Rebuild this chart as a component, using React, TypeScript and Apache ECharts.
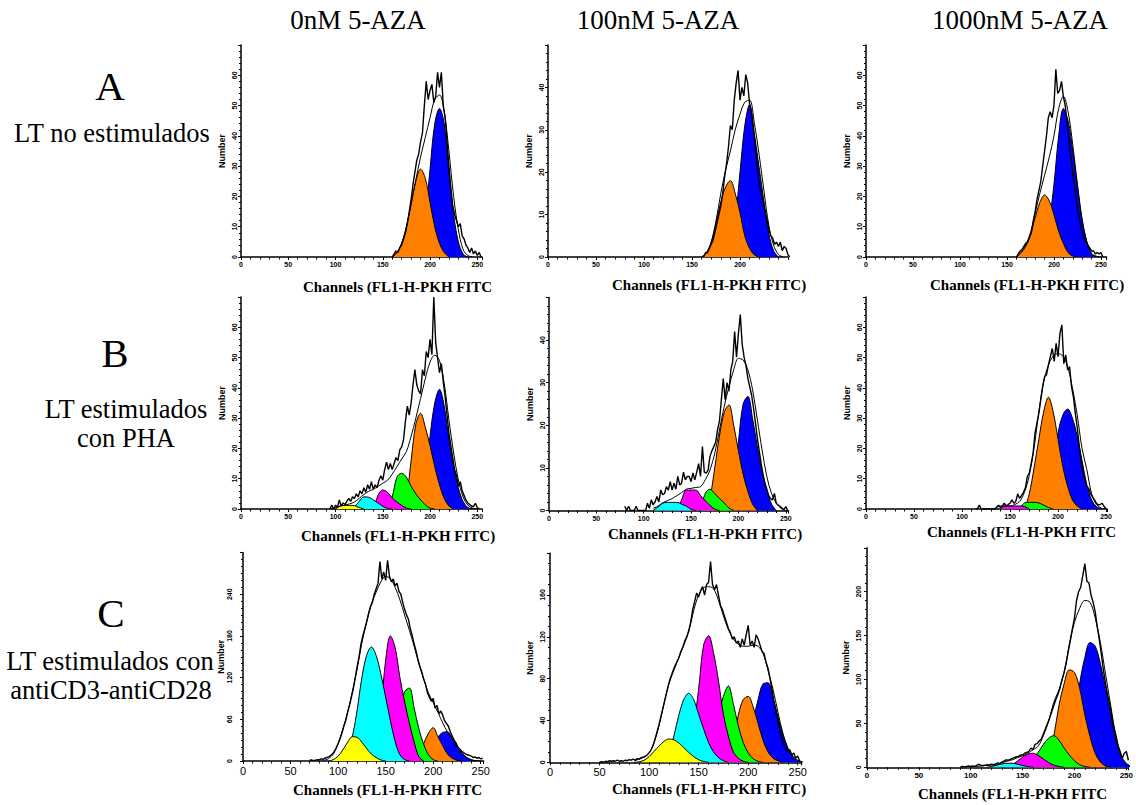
import React, { useEffect, useRef } from "react";
import * as echarts from "echarts";

const _ = null;
const PEAK_STEP = 5;
const RAW_STEP = 2;

const COLUMN_TITLES = ["0nM 5-AZA", "100nM 5-AZA", "1000nM 5-AZA"];
const ROW_LETTERS = ["A", "B", "C"];
const ROW_TEXTS = [["LT no estimulados"], ["LT estimulados", "con PHA"], ["LT estimulados con", "antiCD3-antiCD28"]];
const AXIS_NAME_X = "Channels (FL1-H-PKH FITC";
const AXIS_NAME_X_CLOSED = "Channels (FL1-H-PKH FITC)";
const AXIS_NAME_Y = "Number";
const PEAK_NAMES = ["blue", "orange", "green", "magenta", "cyan", "yellow"];
const PEAK_COLORS = ["#0000ff", "#ff8000", "#00ff00", "#ff00ff", "#00ffff", "#ffff00"];

// ---------- Row A, 0nM ----------
const A1_FROM = 160; // 160..245 step 5
const A1_ORANGE = [0, 1.5, 4.5, 10, 17.5, 25, 29, 26, 18, 10, 4.5, 1.5, 0, _, _, _, _, _];
const A1_BLUE = [_, _, _, _, 0, 1.5, 5, 13, 29, 44, 49, 44, 28, 14, 5, 1, 0, _];
const A1_FIT = [0, 1.5, 4.5, 10, 17.5, 25.5, 33, 39.5, 46, 52, 53.5, 48, 35, 20, 9, 2.5, 0.5, 0];
const A1_RAW_FROM = 160;
const A1_RAW = [0, 1, 2, 1.5, 3, 4, 6, 8, 11, 15, 19, 24, 28, 32, 34, 38, 41, 50, 58, 52, 55, 57, 51, 53, 61, 56, 61, 50, 46, 38, 30, 23, 17, 14, 12, 10, 11, 7, 6, 4, 3, 1.5, 3, 1, 2, 0.5, 1.5, 0];

// ---------- Row A, 100nM ----------
const A2_FROM = 160;
const A2_ORANGE = [0, 1, 3.5, 8, 13, 16.5, 18, 15, 10.5, 5, 2, 0.5, 0, _, _, _, _, _];
const A2_BLUE = [_, _, _, _, 0, 1.5, 4, 9, 20, 31, 36, 29, 21, 13, 5.5, 1.5, 0, _];
const A2_FIT = [0, 1, 3.5, 8.5, 15, 20.5, 25, 30, 33.7, 36.5, 37, 31.5, 24, 15.5, 7.5, 2.8, 0.6, 0];
const A2_RAW_FROM = 162;
const A2_RAW = [0, 1, 1, 2, 3, 4, 6, 8, 10, 12, 15, 19, 22, 26, 31, 30, 37, 41, 44, 37, 40, 38, 43, 41, 36, 34, 30, 26, 21, 17, 15, 13, 11, 9, 6.5, 5, 4.5, 3, 3.5, 2.5, 3.5, 1.5, 2.5, 2, 0.5, 0];

// ---------- Row A, 1000nM ----------
const A3_FROM = 160; // 160..250
const A3_ORANGE = [0, 1.5, 3.5, 7.5, 13, 18, 20.5, 18.5, 14, 8.5, 4.5, 1.5, 0.3, 0, _, _, _, _, _];
const A3_BLUE = [_, _, _, _, 0, 2, 5, 12, 24, 40, 49, 45, 35, 23, 12, 5, 1, 0, _];
const A3_FIT = [0, 1.5, 4, 8, 14.5, 21, 27, 33, 40, 49, 53, 48, 37, 24, 12.5, 5, 1.2, 0.3, 0];
const A3_RAW_FROM = 160;
const A3_RAW = [0, 1, 2, 2.5, 3.5, 4.5, 5, 6.5, 8, 12, 15, 19, 22, 25, 30, 35, 40, 46, 48, 46, 50, 62, 54, 55, 58, 53, 50, 44, 38, 33, 28, 23, 18, 14, 11, 8, 6, 5, 4, 3, 2, 2, 1, 1.5, 1, 1.5, 0];

// ---------- Row B, 0nM ----------
const B1_FROM = 95; // 95..250
const B1_BLUE = [_, _, _, _, _, _, _, _, _, _, _, _, _, _, _, _, _, _, 0, 3, 10, 24, 35, 39.5, 34, 23, 14, 7, 2.5, 0.5, 0, _];
const B1_ORANGE = [_, _, _, _, _, _, _, _, _, _, _, _, _, _, 0, 1, 4, 16, 28, 31.6, 27, 21, 14, 8, 3.5, 1, 0, _, _, _, _, _];
const B1_GREEN = [_, _, _, _, _, _, _, _, _, _, _, _, 0, 4, 10.5, 11.8, 10.5, 7.5, 5, 3, 1.4, 0.3, 0, _, _, _, _, _, _, _, _, _];
const B1_MAGENTA = [_, _, _, _, _, _, _, _, 0, 0.5, 4.5, 6.3, 5.5, 3.7, 2.3, 1.2, 0.3, 0, _, _, _, _, _, _, _, _, _, _, _, _, _, _];
const B1_CYAN = [_, _, _, _, 0, 0.8, 2.5, 4, 3.9, 3, 2, 0.9, 0.2, 0, _, _, _, _, _, _, _, _, _, _, _, _, _, _, _, _, _, _];
const B1_YELLOW = [_, 0, 1, 1.2, 1.2, 1.1, 0.5, 0, _, _, _, _, _, _, _, _, _, _, _, _, _, _, _, _, _, _, _, _, _, _, _, _];
const B1_FIT = [0, 0.5, 1, 1.3, 1.7, 2.3, 3.5, 4.8, 5.8, 6.5, 7.5, 8.5, 9.5, 11.5, 14, 16.5, 19, 24, 30, 36.5, 43, 48.5, 50.8, 49, 41.5, 29.5, 18.5, 9.6, 4, 1.3, 0.3, 0];
const B1_RAW_FROM = 94;
const B1_RAW = [0, 1.3, 0, 1.3, 0.5, 3, 1, 2, 1.5, 2.5, 3.5, 2.5, 4, 3.5, 5, 4, 6, 5, 7, 5.5, 8, 6.5, 9, 6.5, 8, 7, 9.5, 11, 9.5, 13, 15.5, 13, 15, 13, 15, 17, 16, 19.5, 20.5, 23, 29, 34, 31, 35, 41, 46, 41, 39, 38, 46, 44, 52, 50, 56, 51, 70, 55, 50, 45, 48, 42, 37, 31, 25, 21, 17, 13, 11, 7.5, 9, 6, 4.5, 3, 2, 1.5, 1, 0.8, 1.9, 0.5, 0];

// ---------- Row B, 100nM ----------
const B2_FROM = 110; // 110..250
const B2_BLUE = [_, _, _, _, _, _, _, _, _, _, _, _, _, _, _, 0, 1, 5, 16, 25, 26.8, 21.5, 15, 9, 4.8, 1.5, 0, _, _];
const B2_ORANGE = [_, _, _, _, _, _, _, _, _, _, _, 0, 3, 10, 17.5, 23, 24.8, 20, 14, 8.5, 4.5, 1.5, 0, _, _, _, _, _, _];
const B2_GREEN = [_, _, _, _, _, _, _, _, _, _, 0, 4, 5, 4, 2.8, 1.8, 0.6, 0, _, _, _, _, _, _, _, _, _, _, _];
const B2_MAGENTA = [_, _, _, _, _, 0, 2.5, 4.8, 4.8, 4.8, 3.5, 2.3, 1.2, 0.3, 0, _, _, _, _, _, _, _, _, _, _, _, _, _, _];
const B2_CYAN = [0, 0.8, 1.7, 1.9, 1.9, 1.9, 1.5, 1, 0.3, 0, _, _, _, _, _, _, _, _, _, _, _, _, _, _, _, _, _, _, _];
const B2_FIT = [0.5, 1, 1.8, 2.3, 2.8, 3.5, 4.2, 5, 5.2, 5.4, 5.6, 7.2, 9.5, 13.4, 18.9, 24.4, 29, 33, 35.7, 35.3, 33, 28.3, 21.3, 14.2, 8, 4, 1.7, 0.5, 0];
const B2_RAW_FROM = 80;
const B2_RAW = [1, 0, 1, 0, 0, 0, 1, 0, 0, 0, 0, 0, 1.7, 0.5, 2.5, 1.3, 2, 3.3, 2, 4.8, 3.7, 4, 5.6, 4.8, 6.8, 4.8, 6.4, 5, 8, 6, 6.4, 9, 7.2, 8, 8, 6.8, 8.8, 7.2, 9, 11, 8, 15, 9, 8.8, 9.5, 12.7, 14, 15, 16, 19, 21, 26, 31, 26, 30, 28, 33, 35, 42, 36, 41.5, 46, 39, 36, 34, 31, 29, 27, 24, 20.5, 17, 14, 11, 8.5, 6.4, 5, 3.5, 2.8, 2.5, 4, 1.7, 1.3, 1, 0.5, 0.2, 0.9, 0];

// ---------- Row B, 1000nM ----------
const B3_FROM = 135; // 135..250
const B3_BLUE = [_, _, _, _, _, _, _, _, _, _, 0, 4, 12, 25, 31, 33, 30, 24, 16, 8, 3, 0.8, 0, _];
const B3_ORANGE = [_, _, _, _, _, 0, 0.5, 5, 13.5, 23, 32, 36.9, 32, 23, 14, 7.5, 3, 1, 0, _, _, _, _, _];
const B3_GREEN = [_, _, _, _, _, 0, 2, 2.2, 2.2, 2, 1.3, 0.5, 0, _, _, _, _, _, _, _, _, _, _, _];
const B3_MAGENTA = [_, 0, 1, 1, 1, 1, 0.8, 0, _, _, _, _, _, _, _, _, _, _, _, _, _, _, _, _];
const B3_FIT = [0.5, 1, 1, 1, 1.5, 2.5, 5.5, 11, 20, 32, 42, 47.5, 50.5, 51.3, 50.5, 47, 40, 31, 20, 13, 5, 1.5, 0.3, 0];
const B3_RAW_FROM = 114;
const B3_RAW = [0, 0, 1.3, 0, 0, 0, 0, 0, 0, 0, 0, 0.5, 1.3, 0.5, 1, 1.9, 1, 1.5, 1.9, 3, 1.9, 2.5, 5, 3.5, 4.5, 5.5, 7, 10.7, 11.8, 15, 18.4, 25, 28.3, 31.6, 36, 40.4, 43.7, 44.3, 47.6, 50.3, 53, 48.7, 54.7, 50.3, 58, 60.8, 48, 50.9, 45.9, 47, 40.4, 37, 31.6, 27, 21, 16, 12, 9.6, 7.4, 6.8, 5, 4, 3, 1.9, 1.3, 1.5, 1.9, 0.8, 0.2];

// ---------- Row C, 0nM ----------
const C1_FROM = 85; // 85..250
const C1_BLUE = [_, _, _, _, _, _, _, _, _, _, _, _, _, _, _, _, _, _, _, _, _, 0, 5, 15, 34, 41, 42, 32, 20, 11, 5, 1.5, 0, _];
const C1_ORANGE = [_, _, _, _, _, _, _, _, _, _, _, _, _, _, _, _, _, _, 0, 3, 10, 25, 40, 48, 35, 22, 10, 4, 1, 0, _, _, _, _];
const C1_GREEN = [_, _, _, _, _, _, _, _, _, _, _, _, 0, 5, 15, 35, 70, 100, 105, 76, 46, 24, 9, 2, 0, _, _, _, _, _, _, _, _, _];
const C1_MAGENTA = [_, _, _, _, _, _, _, _, 0, 5, 20, 35, 75, 145, 180, 163, 120, 85, 54, 27, 6, 0, _, _, _, _, _, _, _, _, _, _, _, _];
const C1_CYAN = [_, _, _, _, 0, 12, 35, 73, 120, 152, 164, 152, 125, 92, 58, 28, 9, 2, 0, _, _, _, _, _, _, _, _, _, _, _, _, _, _, _];
const C1_YELLOW = [_, 0, 2, 7, 16, 27, 35, 34, 27, 18, 10, 5, 1.5, 0, _, _, _, _, _, _, _, _, _, _, _, _, _, _, _, _, _, _, _, _];
const C1_FIT = [1, 3.5, 10, 25, 46, 70, 100, 132, 170, 200, 226, 243, 258, 266, 262, 250, 232, 210, 188, 165, 140, 118, 98, 84, 70, 55, 42, 34, 21, 12, 5.5, 2, 0.5, 0];
const C1_RAW_FROM = 70;
const C1_RAW = [1, 1.5, 0.5, 1, 2, 1.5, 3, 2.5, 4, 5, 6, 8, 10, 14, 19, 25, 32, 40, 50, 58, 70, 80, 92, 104, 120, 136, 150, 168, 180, 190, 200, 212, 222, 228, 240, 248, 256, 287, 262, 272, 260, 289, 266, 258, 262, 252, 256, 244, 240, 228, 218, 210, 204, 190, 180, 168, 158, 146, 136, 128, 118, 110, 98, 92, 86, 90, 76, 80, 68, 72, 66, 58, 54, 50, 42, 36, 30, 26, 20, 17, 14, 12, 10, 9, 8, 7, 5, 6, 4, 5, 3, 4];

// ---------- Row C, 100nM ----------
const C2_FROM = 85; // 85..255
const C2_BLUE = [_, _, _, _, _, _, _, _, _, _, _, _, _, _, _, _, _, _, _, _, _, 0, 8, 20, 40, 60, 75, 76, 62, 44, 26, 13, 5, 1.5, 0];
const C2_ORANGE = [_, _, _, _, _, _, _, _, _, _, _, _, _, _, _, _, _, _, 0, 8, 22, 45, 60, 63, 53, 37, 21, 10, 4, 1.5, 0, _, _, _, _];
const C2_GREEN = [_, _, _, _, _, _, _, _, _, _, _, _, _, _, 0, 10, 25, 45, 63, 73, 56, 35, 19, 9, 3.5, 1, 0, _, _, _, _, _, _, _, _];
const C2_MAGENTA = [_, _, _, _, _, _, _, _, _, 0, 5, 15, 35, 70, 112, 121, 105, 78, 46, 25, 10, 4, 1, 0, _, _, _, _, _, _, _, _, _, _, _];
const C2_CYAN = [_, _, _, _, _, _, 0, 8, 25, 45, 60, 66, 60, 46, 32, 19, 10, 4.5, 1.5, 0, _, _, _, _, _, _, _, _, _, _, _, _, _, _, _];
const C2_YELLOW = [0, 0.5, 2, 5.5, 10.5, 15.5, 20, 22.3, 21.5, 18.5, 14, 9.5, 5.5, 2.5, 0.8, 0, _, _, _, _, _, _, _, _, _, _, _, _, _, _, _, _, _, _, _];
const C2_FIT = [1.5, 3, 5, 9, 19, 35, 56, 75, 88, 100, 112, 125, 145, 160, 167, 168, 166, 155, 140, 127, 118, 113, 111, 111, 112, 111, 104, 88, 70, 48, 28, 14, 6, 2, 0.5];
const C2_RAW_FROM = 50;
const C2_RAW = [0, 0.5, 0, 1, 0.5, 1.5, 1, 1.5, 1, 2, 1, 1.5, 1, 2, 1.5, 2.5, 2, 3, 2, 3.5, 3, 4.5, 5, 5.5, 7, 9, 12, 16, 22, 29, 36, 44, 52, 60, 68, 76, 82, 87, 92, 96, 100, 106, 110, 116, 120, 126, 134, 146, 154, 162, 158, 164, 168, 160, 170, 172, 192, 170, 165, 170, 160, 150, 146, 140, 134, 128, 124, 118, 120, 114, 116, 110, 118, 112, 122, 131, 112, 116, 110, 122, 118, 112, 106, 104, 96, 90, 80, 70, 58, 48, 40, 30, 22, 17, 13, 10, 12, 7, 9, 4, 6, 1];

// ---------- Row C, 1000nM ----------
const C3_FROM = 100; // 100..255
const C3_BLUE = [_, _, _, _, _, _, _, _, _, _, _, _, _, _, _, _, _, 0, 10, 25, 50, 95, 125, 142, 138, 118, 90, 60, 30, 12, 4, 1];
const C3_ORANGE = [_, _, _, _, _, _, _, _, _, _, _, _, _, 0, 4, 12, 35, 70, 95, 111, 108, 90, 60, 35, 16, 6, 1.5, 0, _, _, _, _];
const C3_GREEN = [_, _, _, _, _, _, _, _, _, 0, 2, 5, 10, 17, 26, 33, 36, 31, 22, 14, 7.5, 3, 1, 0, _, _, _, _, _, _, _, _];
const C3_MAGENTA = [_, _, _, _, _, _, 0, 1, 3, 7, 11.5, 15, 16, 13.5, 9.5, 5.5, 2.5, 1, 0, _, _, _, _, _, _, _, _, _, _, _, _, _];
const C3_CYAN = [_, _, _, 0, 1, 2.5, 3.8, 4.6, 4.6, 3.5, 2, 0.8, 0, _, _, _, _, _, _, _, _, _, _, _, _, _, _, _, _, _, _, _];
const C3_FIT = [0.5, 1, 1.5, 2, 2.5, 3, 5, 7, 8.5, 11, 13, 16, 20, 24, 36, 52, 74, 88, 108, 140, 165, 181, 190, 188, 170, 142, 106, 70, 35, 14, 4.5, 1];
const C3_RAW_FROM = 90;
const C3_RAW = [0.5, 1, 0.5, 1, 1.5, 1, 1.5, 1, 2.5, 3.5, 2, 2, 2.5, 3, 2.5, 3.5, 3, 4, 5, 4.5, 6, 7, 8.5, 8, 9, 10, 11, 12, 12.5, 14, 14, 16, 17, 18, 22, 20, 26, 27, 30, 32, 38, 44, 50, 56, 63, 70, 77, 83, 90, 100, 108, 118, 132, 144, 158, 170, 190, 200, 205, 218, 232, 212, 210, 196, 188, 177, 160, 145, 128, 110, 95, 82, 72, 58, 45, 36, 25, 18, 10, 16, 18, 8];

type Vals = (number | null)[];
interface PanelDef {
  from: number;
  peaks: (Vals | null)[]; // blue, orange, green, magenta, cyan, yellow
  fit: Vals;
  rawFrom: number;
  raw: number[];
}

const PANEL_DATA: PanelDef[] = [
  { from: A1_FROM, peaks: [A1_BLUE, A1_ORANGE, null, null, null, null], fit: A1_FIT, rawFrom: A1_RAW_FROM, raw: A1_RAW },
  { from: A2_FROM, peaks: [A2_BLUE, A2_ORANGE, null, null, null, null], fit: A2_FIT, rawFrom: A2_RAW_FROM, raw: A2_RAW },
  { from: A3_FROM, peaks: [A3_BLUE, A3_ORANGE, null, null, null, null], fit: A3_FIT, rawFrom: A3_RAW_FROM, raw: A3_RAW },
  { from: B1_FROM, peaks: [B1_BLUE, B1_ORANGE, B1_GREEN, B1_MAGENTA, B1_CYAN, B1_YELLOW], fit: B1_FIT, rawFrom: B1_RAW_FROM, raw: B1_RAW },
  { from: B2_FROM, peaks: [B2_BLUE, B2_ORANGE, B2_GREEN, B2_MAGENTA, B2_CYAN, null], fit: B2_FIT, rawFrom: B2_RAW_FROM, raw: B2_RAW },
  { from: B3_FROM, peaks: [B3_BLUE, B3_ORANGE, B3_GREEN, B3_MAGENTA, null, null], fit: B3_FIT, rawFrom: B3_RAW_FROM, raw: B3_RAW },
  { from: C1_FROM, peaks: [C1_BLUE, C1_ORANGE, C1_GREEN, C1_MAGENTA, C1_CYAN, C1_YELLOW], fit: C1_FIT, rawFrom: C1_RAW_FROM, raw: C1_RAW },
  { from: C2_FROM, peaks: [C2_BLUE, C2_ORANGE, C2_GREEN, C2_MAGENTA, C2_CYAN, C2_YELLOW], fit: C2_FIT, rawFrom: C2_RAW_FROM, raw: C2_RAW },
  { from: C3_FROM, peaks: [C3_BLUE, C3_ORANGE, C3_GREEN, C3_MAGENTA, C3_CYAN, null], fit: C3_FIT, rawFrom: C3_RAW_FROM, raw: C3_RAW },
];

// Axis scales per panel
const X_MAX = [255, 250, 256, 255, 253, 251, 253, 254, 252];
const Y_MAX = [70, 50, 70, 70, 50, 70, 300, 200, 250];
const Y_INTERVAL = [10, 10, 10, 10, 10, 10, 60, 40, 50];
const Y_MINOR = [5, 5, 5, 5, 5, 5, 6, 4, 5];

// Layout (pixels)
const GRID_RECTS = [
  { left: 241, top: 45, width: 241, height: 212 },
  { left: 548, top: 45, width: 240, height: 212 },
  { left: 866, top: 45, width: 240.6, height: 212 },
  { left: 241, top: 297, width: 241, height: 212 },
  { left: 549, top: 297.5, width: 239.6, height: 213 },
  { left: 866, top: 297, width: 241, height: 212 },
  { left: 243, top: 552.6, width: 240.6, height: 208.4 },
  { left: 550, top: 553.2, width: 251.7, height: 209.1 },
  { left: 867, top: 547.8, width: 262.5, height: 219.5 },
];
const X_LABEL_SIZE = [7, 7, 7, 7, 7, 7, 11, 11, 8];
const X_LABEL_BOLD = [true, true, true, true, true, true, false, false, true];
const Y_LABEL_MARGIN = [3, 3, 3, 3, 3, 3, 10, 4, 5];
const Y_NAME_GAP = [15, 15, 15, 15, 15, 15, 18, 16, 17];
const X_NAME_POS = [
  [303, 287], [612, 285], [930, 285],
  [301, 536], [608, 534], [927, 532],
  [293, 790], [612, 789], [918, 794],
];
const X_NAME_CLOSED = [false, true, true, true, true, false, false, true, false];

const SERIF = '"Liberation Serif", "Times New Roman", serif';
const SANS = '"Liberation Sans", Arial, sans-serif';

function toPoints(from: number, step: number, vals: Vals): number[][] {
  const out: number[][] = [];
  vals.forEach((v, i) => {
    if (v !== null) out.push([from + i * step, v]);
  });
  return out;
}

function buildOption() {
  const grid: any[] = [];
  const xAxis: any[] = [];
  const yAxis: any[] = [];
  const series: any[] = [];

  PANEL_DATA.forEach((p, i) => {
    grid.push({ ...GRID_RECTS[i] });
    xAxis.push({
      type: "value",
      gridIndex: i,
      min: 0,
      max: X_MAX[i],
      interval: 50,
      axisLine: { lineStyle: { color: "#000", width: 1.5 } },
      axisTick: { show: true, length: 3, lineStyle: { color: "#000", width: 1 } },
      minorTick: { show: true, splitNumber: 5, length: 2.5, lineStyle: { color: "#000", width: 1 } },
      splitLine: { show: false },
      minorSplitLine: { show: false },
      axisLabel: {
        fontSize: X_LABEL_SIZE[i],
        fontWeight: X_LABEL_BOLD[i] ? "bold" : "normal",
        fontFamily: SANS,
        color: "#000",
        margin: 4,
        showMaxLabel: false,
      },
    });
    yAxis.push({
      type: "value",
      gridIndex: i,
      min: 0,
      max: Y_MAX[i],
      interval: Y_INTERVAL[i],
      name: AXIS_NAME_Y,
      nameLocation: "middle",
      nameRotate: 90,
      nameGap: Y_NAME_GAP[i],
      nameTextStyle: { fontSize: 9, fontWeight: "bold", fontFamily: SANS, color: "#000" },
      axisLine: { show: true, lineStyle: { color: "#000", width: 1.5 } },
      axisTick: { show: true, length: 3, lineStyle: { color: "#000", width: 1 } },
      minorTick: { show: true, splitNumber: Y_MINOR[i], length: 2, lineStyle: { color: "#000", width: 1 } },
      splitLine: { show: false },
      minorSplitLine: { show: false },
      axisLabel: {
        rotate: 90,
        fontSize: 7,
        fontWeight: "bold",
        fontFamily: SANS,
        color: "#000",
        margin: Y_LABEL_MARGIN[i],
        showMaxLabel: false,
      },
    });

    p.peaks.forEach((vals, k) => {
      if (!vals) return;
      series.push({
        name: `${PEAK_NAMES[k]}-${i}`,
        type: "line",
        xAxisIndex: i,
        yAxisIndex: i,
        data: toPoints(p.from, PEAK_STEP, vals),
        smooth: 0.35,
        showSymbol: false,
        symbol: "none",
        silent: true,
        z: 2 + k,
        lineStyle: { color: "#000", width: 1 },
        areaStyle: { color: PEAK_COLORS[k], opacity: 1 },
      });
    });
    series.push({
      name: `fit-${i}`,
      type: "line",
      xAxisIndex: i,
      yAxisIndex: i,
      data: toPoints(p.from, PEAK_STEP, p.fit),
      smooth: 0.35,
      showSymbol: false,
      symbol: "none",
      silent: true,
      z: 10,
      lineStyle: { color: "#000", width: 1 },
    });
    series.push({
      name: `raw-${i}`,
      type: "line",
      xAxisIndex: i,
      yAxisIndex: i,
      data: toPoints(p.rawFrom, RAW_STEP, p.raw),
      smooth: false,
      showSymbol: false,
      symbol: "none",
      silent: true,
      z: 11,
      lineStyle: { color: "#000", width: 1.4 },
    });
  });

  const graphic: any[] = [];
  const txt = (text: string, x: number, y: number, font: string, align = "center") => ({
    type: "text",
    x,
    y,
    silent: true,
    style: {
      text,
      font,
      fill: "#000",
      align,
      verticalAlign: "middle",
      textAlign: align,
      textVerticalAlign: "middle",
    },
  });
  const titleX = [358, 658, 1020];
  COLUMN_TITLES.forEach((t, i) => graphic.push(txt(t, titleX[i], 20, `27px ${SERIF}`)));

  const letterPos = [[110, 86], [115, 353], [111, 613]];
  ROW_LETTERS.forEach((l, i) => graphic.push(txt(l, letterPos[i][0], letterPos[i][1], `41px ${SERIF}`)));
  const rowTextPos = [[[112, 133]], [[126, 409], [126, 438]], [[110, 661], [111, 690]]];
  ROW_TEXTS.forEach((lines, r) =>
    lines.forEach((line, j) => graphic.push(txt(line, rowTextPos[r][j][0], rowTextPos[r][j][1], `26.5px ${SERIF}`)))
  );
  X_NAME_POS.forEach((pos, i) =>
    graphic.push(txt(X_NAME_CLOSED[i] ? AXIS_NAME_X_CLOSED : AXIS_NAME_X, pos[0], pos[1], `bold 15px ${SERIF}`, "left"))
  );

  return {
    animation: false,
    backgroundColor: "#fff",
    grid,
    xAxis,
    yAxis,
    series,
    graphic,
  };
}

export default function App() {
  const ref = useRef<HTMLDivElement>(null);
  useEffect(() => {
    document.body.style.margin = "0";
    if (!ref.current) return;
    const chart = echarts.init(ref.current, undefined, { renderer: "svg" });
    chart.setOption(buildOption() as any);
    return () => chart.dispose();
  }, []);
  return <div ref={ref} style={{ width: 1136, height: 805 }} />;
}
